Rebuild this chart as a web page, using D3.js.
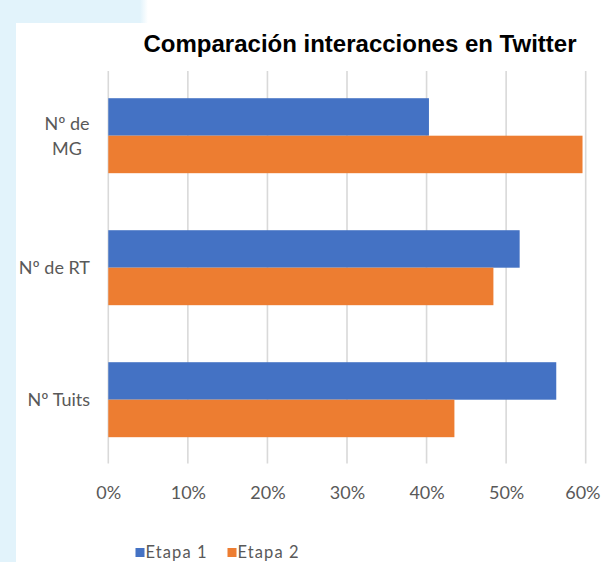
<!DOCTYPE html>
<html><head><meta charset="utf-8">
<script src="https://cdn.jsdelivr.net/npm/d3@7"></script>
<style>body{margin:0;background:#fff}svg{display:block}</style>
</head><body><svg id="c" width="601" height="562"></svg>
<script>
const categories = [["Nº de","MG"], ["Nº de RT"], ["Nº Tuits"]];
const catKeys = ["MG", "RT", "Tuits"];
const seriesNames = ["Etapa 1", "Etapa 2"];
const etapa1 = [0.403, 0.517, 0.563];
const etapa2 = [0.596, 0.484, 0.435];
const xTicks = [0, 0.1, 0.2, 0.3, 0.4, 0.5, 0.6];
const colors = ["#4472c4", "#ed7d31"];
const title = "Comparación interacciones en Twitter";

const svg = d3.select("#c");
const W = 601, H = 562;
svg.append("rect").attr("width", W).attr("height", H).attr("fill", "#fff");
const bg = "#e2f3fb";
const defs = svg.append("defs");
const gr = defs.append("linearGradient").attr("id","fade").attr("x1","0").attr("x2","1");
gr.append("stop").attr("offset","0").attr("stop-color",bg);
gr.append("stop").attr("offset","1").attr("stop-color","#fff");
svg.append("rect").attr("x",0).attr("y",0).attr("width",16).attr("height",H).attr("fill",bg);
svg.append("rect").attr("x",0).attr("y",0).attr("width",140).attr("height",23).attr("fill",bg);
svg.append("rect").attr("x",140).attr("y",0).attr("width",8).attr("height",23).attr("fill","url(#fade)");

const x = d3.scaleLinear().domain([0, 0.6]).range([108.3, 585.7]);
const y = d3.scaleBand().domain(catKeys).range([69.7, 465.7]).paddingInner(0.432).paddingOuter(0.216);
const ys = d3.scaleBand().domain(seriesNames).range([0, y.bandwidth()]);

// gridlines
svg.append("g").selectAll("line").data(xTicks).join("line")
  .attr("x1", d => x(d)).attr("x2", d => x(d))
  .attr("y1", 71).attr("y2", 463.5)
  .attr("stroke", "#d9d9d9").attr("stroke-width", 1.6);

// bars
const data = catKeys.map((k, i) => ({k, vals: [etapa1[i], etapa2[i]]}));
const g = svg.append("g").selectAll("g").data(data).join("g")
  .attr("transform", d => `translate(0,${y(d.k)})`);
g.selectAll("rect").data(d => d.vals.map((v, j) => ({v, s: seriesNames[j], j}))).join("rect")
  .attr("x", x(0)).attr("y", d => ys(d.s))
  .attr("width", d => x(d.v) - x(0)).attr("height", ys.bandwidth())
  .attr("fill", d => colors[d.j]);

// x axis labels
const fam = "Lato, 'Open Sans', sans-serif";
const xAxis = d3.axisBottom(x).tickValues(xTicks).tickFormat(d3.format(".0%")).tickSize(0).tickPadding(0);
const ax = svg.append("g").attr("transform", "translate(0,486)").call(xAxis);
ax.select(".domain").remove();
ax.selectAll("text").attr("font-family", fam).attr("font-size", 18)
  .attr("fill", "#595959").attr("dy", "0.72em");
ax.selectAll(".tick").filter(d => d === 0.6).select("text")
  .attr("text-anchor", "end").attr("x", 600 - x(0.6));

// y labels
categories.forEach((lines, i) => {
  const cy = y(catKeys[i]) + y.bandwidth() / 2;
  const t = svg.append("text").attr("font-family", fam).attr("font-size", 18).attr("fill", "#595959");
  if (lines.length === 1) {
    t.attr("x", 90).attr("y", cy + 6.5).attr("text-anchor", "end").text(lines[0]);
  } else {
    t.attr("text-anchor", "middle");
    const lh = 25;
    const y0 = cy + 6.5 - lh * (lines.length - 1) / 2;
    lines.forEach((l, j) => t.append("tspan").attr("x", 67).attr("y", y0 + j * lh).text(l));
  }
});

// title
svg.append("text").attr("x", 360).attr("y", 52).attr("text-anchor", "middle")
  .attr("font-family", "'Liberation Sans', Arial, sans-serif").attr("font-weight", "bold")
  .attr("font-size", 24).attr("fill", "#000").text(title);

// legend
const leg = svg.append("g");
const legX = [135.5, 227.5];
seriesNames.forEach((s, i) => {
  leg.append("rect").attr("x", legX[i]).attr("y", 548).attr("width", 9).attr("height", 9).attr("fill", colors[i]);
  leg.append("text").attr("x", legX[i] + 10).attr("y", 558).attr("font-family", fam)
    .attr("font-size", 16.5).attr("letter-spacing", 1.1).attr("fill", "#595959").text(s);
});
</script></body></html>
